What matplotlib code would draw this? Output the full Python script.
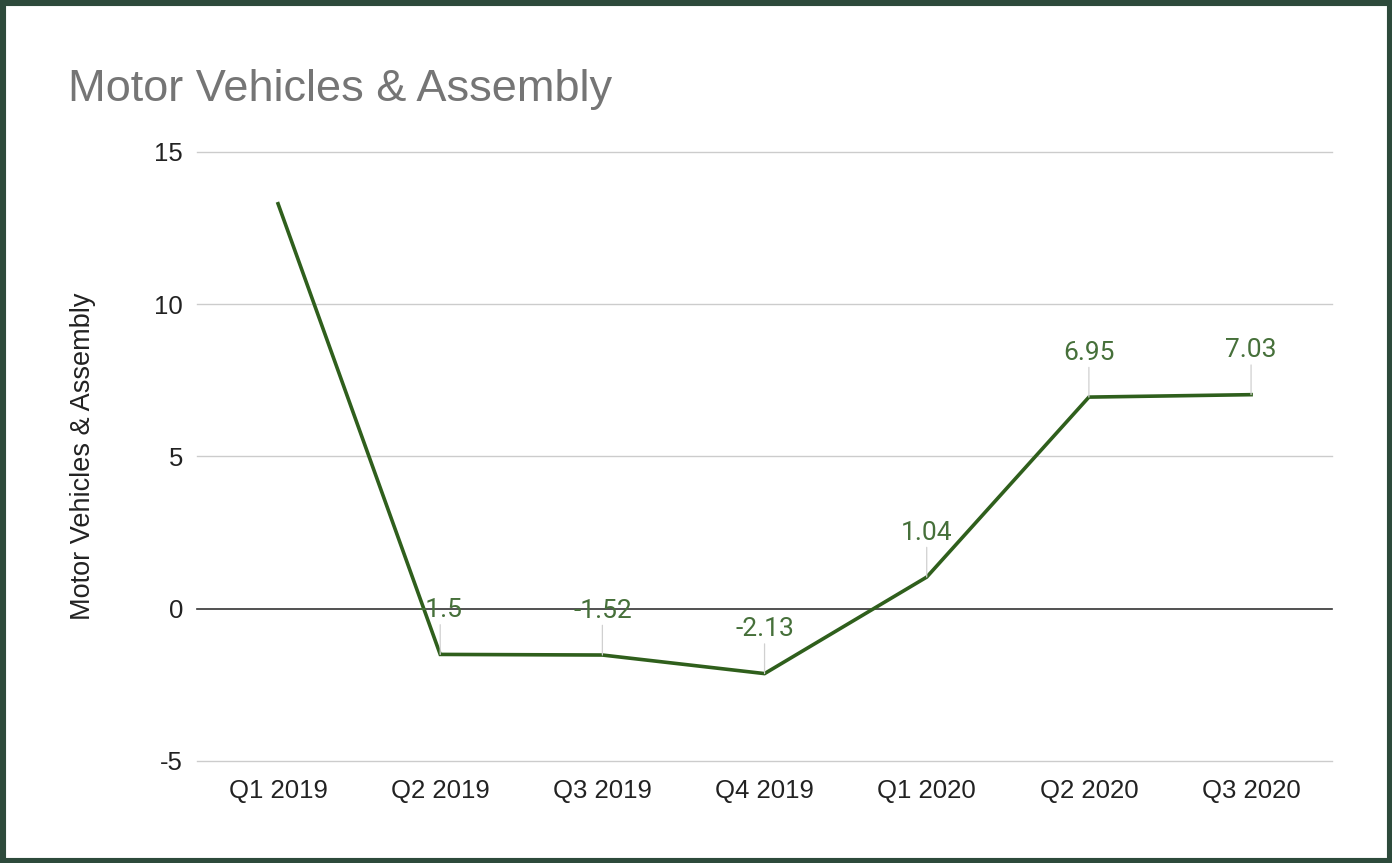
#!/usr/bin/env python3

from matplotlib import pyplot as plt
from matplotlib.patches import Rectangle


QUARTERS = ["Q1 2019", "Q2 2019", "Q3 2019", "Q4 2019", "Q1 2020", "Q2 2020", "Q3 2020"]
VALUES = [13.3, -1.5, -1.52, -2.13, 1.04, 6.95, 7.03]
# the first point has no label in the original chart
LABELS = ["", "-1.5", "-1.52", "-2.13", "1.04", "6.95", "7.03"]
Y_TICKS = [-5, 0, 5, 10, 15]

TITLE = "Motor Vehicles & Assembly"
LINE_COLOR = "#2f5f1c"
LABEL_COLOR = "#46703a"
BORDER_COLOR = "#2d4a3b"


def main():
    plt.rcParams["font.family"] = ["Liberation Sans", "DejaVu Sans"]

    fig = plt.figure(figsize=(13.92, 8.63), dpi=100)
    fig.patch.set_facecolor("white")

    ax = fig.add_axes([0.1415, 0.1182, 0.8155, 0.7057])
    x = list(range(len(QUARTERS)))

    ax.set_ylim(-5, 15)
    ax.set_xlim(-0.5, len(QUARTERS) - 0.5)
    ax.set_yticks(Y_TICKS)
    ax.set_yticklabels([str(t) for t in Y_TICKS])
    ax.set_xticks(x)
    ax.set_xticklabels(QUARTERS)
    ax.tick_params(axis="both", length=0, labelsize=18.5, colors="#222222")
    ax.tick_params(axis="y", pad=10)
    ax.tick_params(axis="x", pad=13)

    for s in ax.spines.values():
        s.set_visible(False)

    for t in Y_TICKS:
        if t == 0:
            ax.axhline(t, color="#333333", lw=1.2, zorder=1, clip_on=False)
        else:
            ax.axhline(t, color="#cccccc", lw=1.0, zorder=0, clip_on=False)

    ax.plot(x, VALUES, color=LINE_COLOR, lw=2.6, zorder=3, solid_joinstyle="miter")

    for i, (v, lab) in enumerate(zip(VALUES, LABELS)):
        if not lab:
            continue
        ax.annotate(
            lab,
            xy=(i, v),
            xytext=(0, 27),
            textcoords="offset points",
            ha="center",
            va="baseline",
            fontsize=19,
            family=["Roboto", "DejaVu Sans"],
            color=LABEL_COLOR,
            zorder=4,
            arrowprops=dict(arrowstyle="-", color="#d0d0d0", lw=0.9, shrinkA=0, shrinkB=0),
        )

    ax.set_ylabel(TITLE, fontsize=19.5, color="#222222")
    ax.yaxis.set_label_coords(-0.089, 0.5)

    fig.text(68 / 1392, 1 - 101 / 863, TITLE, fontsize=32.5, color="#757575",
             ha="left", va="baseline")

    fig.patches.append(Rectangle((0, 0), 1, 1, transform=fig.transFigure, fill=False,
                                 lw=8, edgecolor=BORDER_COLOR, zorder=10))

    fig.savefig("out.png", dpi=100, facecolor="white")


if __name__ == "__main__":
    main()
